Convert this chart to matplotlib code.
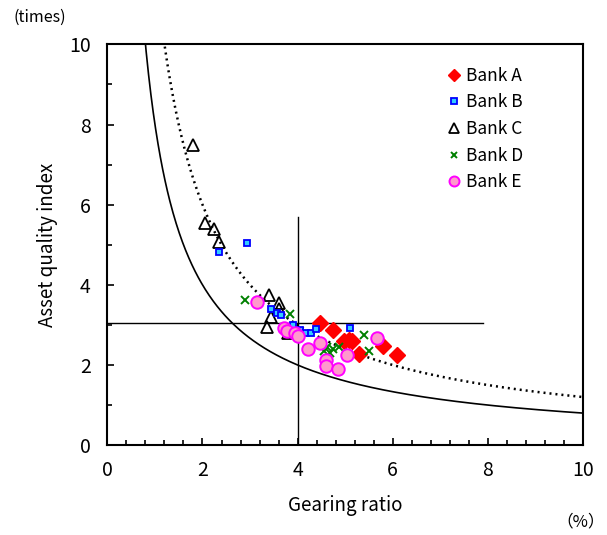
import numpy as np
import matplotlib
matplotlib.use("Agg")
import matplotlib.pyplot as plt
from matplotlib.ticker import MultipleLocator

plt.rcParams["font.family"] = ["Noto Sans CJK JP", "DejaVu Sans"]

# gearing ratio (%) and asset quality index (times) for each bank
bank_a_x = [4.47, 4.75, 4.98, 5.08, 5.15, 5.30, 5.80, 6.10]
bank_a_y = [3.05, 2.87, 2.60, 2.62, 2.60, 2.27, 2.47, 2.25]

bank_b_x = [2.35, 2.93, 3.45, 3.56, 3.65, 3.90, 4.05, 4.18, 4.28, 4.38, 5.10]
bank_b_y = [4.81, 5.05, 3.40, 3.29, 3.24, 3.00, 2.88, 2.80, 2.79, 2.90, 2.92]

bank_c_x = [1.80, 2.05, 2.25, 2.35, 3.40, 3.60, 3.60, 3.45, 3.35, 3.80]
bank_c_y = [7.50, 5.55, 5.40, 5.06, 3.75, 3.55, 3.40, 3.20, 2.95, 2.80]

bank_d_x = [2.90, 3.85, 4.55, 4.62, 4.68, 4.75, 4.88, 5.40, 5.50]
bank_d_y = [3.62, 3.26, 2.35, 2.45, 2.30, 2.40, 2.45, 2.75, 2.36]

bank_e_x = [3.15, 3.72, 3.78, 3.95, 4.00, 4.22, 4.47, 4.60, 4.60, 4.85, 5.05, 5.67]
bank_e_y = [3.57, 2.92, 2.85, 2.79, 2.72, 2.39, 2.55, 2.12, 1.97, 1.91, 2.25, 2.68]

# reference curves y = k / x and the crosshair lines
curve_solid_k = 8.0
curve_dotted_k = 12.0
cross_x = 4.0
cross_y = 3.05
cross_x_top = 5.7
cross_y_right = 7.9

fig = plt.figure(figsize=(6.07, 5.35), dpi=100)
ax = fig.add_axes([0.177, 0.168, 0.783, 0.749])

xs = np.linspace(0.05, 10, 600)
ax.plot(xs, curve_solid_k / xs, color="black", lw=1.2, zorder=1)
ax.plot(xs, curve_dotted_k / xs, color="black", lw=1.8,
        linestyle=(0, (0.8, 1.6)), zorder=1)

ax.plot([cross_x, cross_x], [0, cross_x_top], color="black", lw=1.0, zorder=1)
ax.plot([0, cross_y_right], [cross_y, cross_y], color="black", lw=1.0, zorder=1)

ax.plot(bank_a_x, bank_a_y, "D", ms=8, color="#FF0000", mec="#FF0000",
        ls="none", label="Bank A", zorder=3)
ax.plot(bank_b_x, bank_b_y, "s", ms=5, mfc="#33CCFF", mec="#0000FF", mew=1.3,
        ls="none", label="Bank B", zorder=3)
ax.plot(bank_c_x, bank_c_y, "^", ms=9, mfc="none", mec="black", mew=1.3,
        ls="none", label="Bank C", zorder=2)
ax.plot(bank_d_x, bank_d_y, "x", ms=6, color="#008000", mew=1.4,
        ls="none", label="Bank D", zorder=3)
ax.plot(bank_e_x, bank_e_y, "o", ms=9, mfc="#FF99CC", mec="#FF00FF", mew=1.4,
        ls="none", label="Bank E", zorder=3)

ax.set_xlim(0, 10)
ax.set_ylim(0, 10)
ax.xaxis.set_major_locator(MultipleLocator(2))
ax.xaxis.set_minor_locator(MultipleLocator(0.4))
ax.yaxis.set_major_locator(MultipleLocator(2))
ax.yaxis.set_minor_locator(MultipleLocator(1))
ax.tick_params(which="both", direction="in", labelsize=14, width=1.2)
ax.tick_params(which="major", length=5)
ax.tick_params(which="minor", length=3.5)
ax.tick_params(axis="x", pad=11)
ax.tick_params(axis="y", pad=12)
for sp in ax.spines.values():
    sp.set_linewidth(1.5)

ax.set_xlabel("Gearing ratio", fontsize=13.5, labelpad=10)
ax.set_ylabel("Asset quality index", fontsize=13.5, labelpad=8)
fig.text(0.065, 0.967, "(times)", fontsize=11.5, ha="center", va="center")
fig.text(0.956, 0.024, "（%）", fontsize=12, ha="center", va="center")

leg = ax.legend(loc="upper left", bbox_to_anchor=(0.70, 0.962), frameon=False,
                fontsize=12.5, handlelength=0.8, handletextpad=0.3,
                labelspacing=0.5, borderaxespad=0, markerscale=0.8)

fig.savefig("out.png", dpi=100)
